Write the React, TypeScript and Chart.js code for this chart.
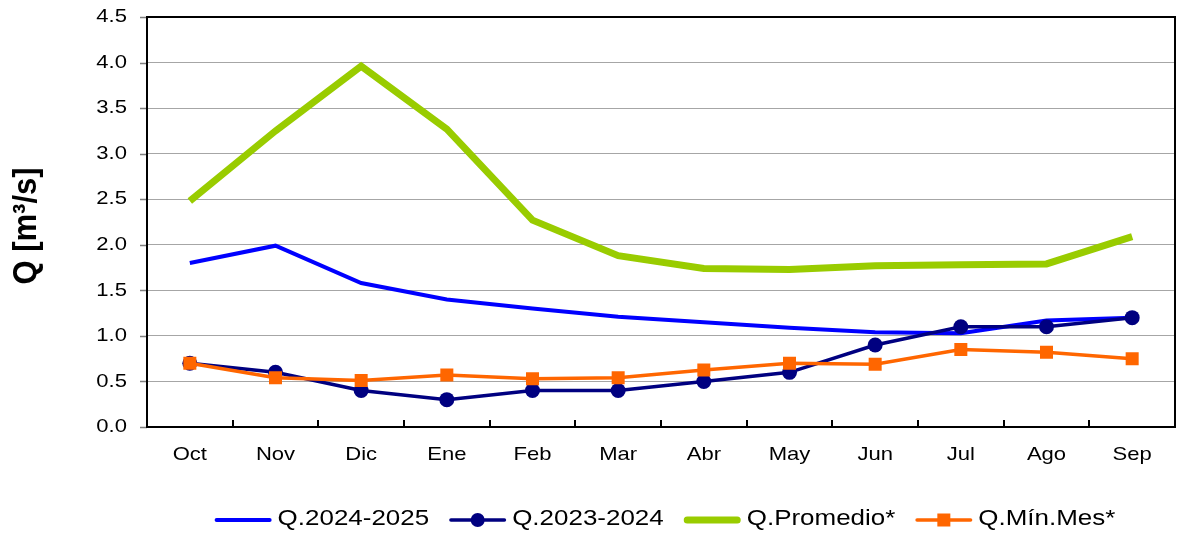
import React, { useEffect, useRef } from 'react';
import { Chart, registerables } from 'chart.js';

Chart.register(...registerables);

// ---------- data ----------
const months = ['Oct', 'Nov', 'Dic', 'Ene', 'Feb', 'Mar', 'Abr', 'May', 'Jun', 'Jul', 'Ago', 'Sep'];
const q2024_2025 = [1.8, 1.99, 1.58, 1.4, 1.3, 1.21, 1.15, 1.09, 1.04, 1.03, 1.17, 1.2];
const q2023_2024 = [0.7, 0.6, 0.4, 0.3, 0.4, 0.4, 0.5, 0.6, 0.9, 1.1, 1.1, 1.2];
const qPromedio = [2.48, 3.25, 3.96, 3.27, 2.27, 1.88, 1.74, 1.73, 1.77, 1.78, 1.79, 2.09];
const qMinMes = [0.7, 0.54, 0.51, 0.57, 0.53, 0.54, 0.625, 0.7, 0.69, 0.85, 0.82, 0.75];
const seriesLabels = ['Q.2024-2025', 'Q.2023-2024', 'Q.Promedio*', 'Q.Mín.Mes*'];
const yTickValues = [0, 0.5, 1, 1.5, 2, 2.5, 3, 3.5, 4, 4.5];
const yTickLabels = ['0.0', '0.5', '1.0', '1.5', '2.0', '2.5', '3.0', '3.5', '4.0', '4.5'];
const yTitle = 'Q [m³/s]';

// ---------- styles ----------
const FONT = '"Liberation Sans", Arial, sans-serif';
const BLUE = '#0000FF';
const NAVY = '#000080';
const GREEN = '#99CC00';
const ORANGE = '#FF6600';
const GRID = '#A6A6A6';
const SX = 1.16; // horizontal text stretch of the original

type LegendItem = { color: string; width: number; marker: 'none' | 'circle' | 'square' };
const legendStyles: LegendItem[] = [
  { color: BLUE, width: 4, marker: 'none' },
  { color: NAVY, width: 3.5, marker: 'circle' },
  { color: GREEN, width: 7, marker: 'none' },
  { color: ORANGE, width: 3.5, marker: 'square' },
];

function stretchedText(ctx: CanvasRenderingContext2D, text: string, x: number, y: number, align: CanvasTextAlign, sx: number) {
  ctx.save();
  ctx.translate(x, y);
  ctx.scale(sx, 1);
  ctx.textAlign = align;
  ctx.fillText(text, 0, 0);
  ctx.restore();
}

const decorPlugin = {
  id: 'decor',
  beforeDatasetsDraw(chart: any) {
    const { ctx, chartArea: a, scales } = chart;
    const xs = scales.x;
    const ys = scales.y;
    ctx.save();
    // y tick marks (outside)
    ctx.strokeStyle = '#7F7F7F';
    ctx.lineWidth = 1.5;
    yTickValues.forEach((v) => {
      const py = Math.round(ys.getPixelForValue(v)) + 0.5;
      ctx.beginPath();
      ctx.moveTo(a.left - 7, py);
      ctx.lineTo(a.left, py);
      ctx.stroke();
    });
    // x tick marks (inside) at category boundaries
    ctx.strokeStyle = '#000';
    ctx.lineWidth = 2;
    for (let i = 0; i < months.length - 1; i++) {
      const px = Math.round(xs.getPixelForValue(i + 0.5));
      ctx.beginPath();
      ctx.moveTo(px, a.bottom);
      ctx.lineTo(px, a.bottom - 7);
      ctx.stroke();
    }
    // frame
    ctx.lineWidth = 2;
    ctx.strokeStyle = '#000';
    ctx.strokeRect(a.left, a.top, a.right - a.left, a.bottom - a.top);
    ctx.restore();
  },
  afterDraw(chart: any) {
    const { ctx, chartArea: a, scales } = chart;
    const xs = scales.x;
    const ys = scales.y;
    ctx.save();
    ctx.fillStyle = '#000';
    // y tick labels
    ctx.font = `19px ${FONT}`;
    ctx.textBaseline = 'middle';
    yTickValues.forEach((v, i) => {
      stretchedText(ctx, yTickLabels[i], a.left - 20, ys.getPixelForValue(v), 'right', SX);
    });
    // x tick labels
    ctx.textBaseline = 'alphabetic';
    months.forEach((m, i) => {
      stretchedText(ctx, m, xs.getPixelForValue(i), a.bottom + 33, 'center', SX);
    });
    // y title
    ctx.save();
    ctx.font = `bold 31px ${FONT}`;
    ctx.textBaseline = 'alphabetic';
    ctx.textAlign = 'center';
    ctx.translate(36, (a.top + a.bottom) / 2 + 4);
    ctx.scale(1.08, 1);
    ctx.rotate(-Math.PI / 2);
    ctx.fillText(yTitle, 0, 0);
    ctx.restore();

    // legend
    const LSX = 1.18;
    ctx.font = `22px ${FONT}`;
    ctx.textBaseline = 'middle';
    const lineLen = 57;
    const gapText = 6;
    const gapItem = 20;
    const widths = seriesLabels.map((t) => lineLen + gapText + ctx.measureText(t).width * LSX);
    const total = widths.reduce((s, w) => s + w, 0) + gapItem * (widths.length - 1);
    let x = (a.left + a.right) / 2 + 4 - total / 2;
    const ly = 520;
    seriesLabels.forEach((t, i) => {
      const st = legendStyles[i];
      ctx.strokeStyle = st.color;
      ctx.lineWidth = st.width;
      ctx.lineCap = 'round';
      ctx.beginPath();
      ctx.moveTo(x + st.width / 2, ly);
      ctx.lineTo(x + lineLen - st.width / 2, ly);
      ctx.stroke();
      const cx = x + lineLen / 2;
      ctx.fillStyle = st.color;
      if (st.marker === 'circle') {
        ctx.beginPath();
        ctx.arc(cx, ly, 7, 0, Math.PI * 2);
        ctx.fill();
      } else if (st.marker === 'square') {
        ctx.fillRect(cx - 6.5, ly - 6.5, 13, 13);
      }
      ctx.fillStyle = '#000';
      stretchedText(ctx, t, x + lineLen + gapText, ly - 1, 'left', LSX);
      x += widths[i] + gapItem;
    });
    ctx.restore();
  },
};

export default function App() {
  const canvasRef = useRef<HTMLCanvasElement | null>(null);

  useEffect(() => {
    const canvas = canvasRef.current;
    if (!canvas) return;
    const chart = new Chart(canvas, {
      type: 'line',
      data: {
        labels: months,
        datasets: [
          {
            label: seriesLabels[0],
            data: q2024_2025,
            borderColor: BLUE,
            backgroundColor: BLUE,
            borderWidth: 4,
            pointRadius: 0,
            tension: 0,
            order: 2,
          },
          {
            label: seriesLabels[1],
            data: q2023_2024,
            borderColor: NAVY,
            backgroundColor: NAVY,
            borderWidth: 3.5,
            pointRadius: 7.5,
            pointStyle: 'circle',
            pointBorderWidth: 0,
            tension: 0,
            order: 1,
          },
          {
            label: seriesLabels[2],
            data: qPromedio,
            borderColor: GREEN,
            backgroundColor: GREEN,
            borderWidth: 7,
            pointRadius: 0,
            tension: 0,
            order: 3,
          },
          {
            label: seriesLabels[3],
            data: qMinMes,
            borderColor: ORANGE,
            backgroundColor: ORANGE,
            borderWidth: 3.5,
            pointRadius: 9.2,
            pointStyle: 'rect',
            pointBorderWidth: 0,
            tension: 0,
            order: 0,
          },
        ],
      },
      options: {
        responsive: false,
        animation: false,
        devicePixelRatio: 1,
        layout: { padding: { top: 17, right: 15, bottom: 0, left: 0 } },
        plugins: {
          legend: { display: false },
          tooltip: { enabled: false },
          title: { display: false },
        },
        scales: {
          x: {
            type: 'category',
            offset: true,
            grid: { display: false },
            border: { display: false },
            ticks: { display: false },
            afterFit: (s: any) => {
              s.height = 116;
            },
          },
          y: {
            min: 0,
            max: 4.5,
            ticks: { display: false, stepSize: 0.5 },
            grid: { color: GRID, lineWidth: 1, drawTicks: false },
            border: { display: false },
            afterFit: (s: any) => {
              s.width = 147;
            },
          },
        },
      },
      plugins: [decorPlugin],
    });
    return () => chart.destroy();
  }, []);

  return (
    <div style={{ position: 'fixed', left: 0, top: 0, width: 1190, height: 543, background: '#fff' }}>
      <canvas ref={canvasRef} width={1190} height={543} style={{ display: 'block', width: 1190, height: 543 }} />
    </div>
  );
}
